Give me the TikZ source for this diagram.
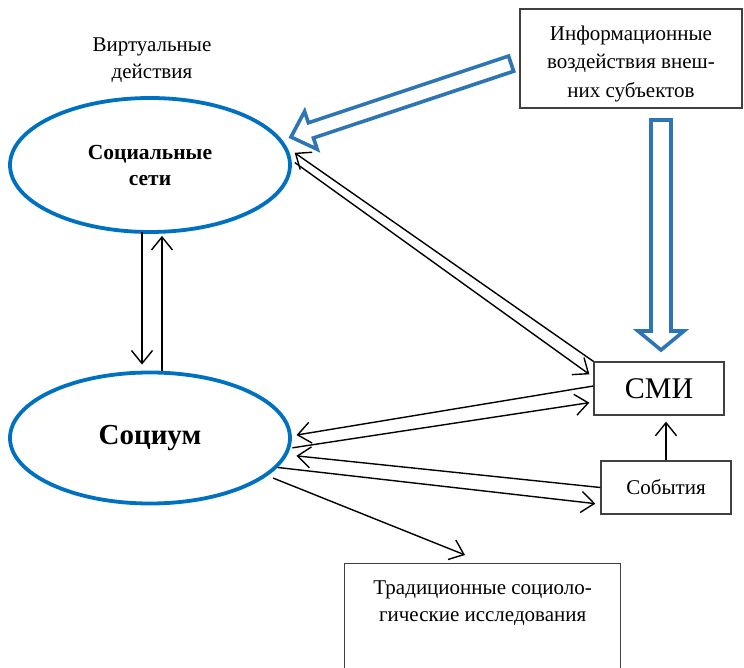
\documentclass[tikz,border=0pt]{standalone}
\usepackage{fontspec}
\setmainfont{Liberation Serif}
\usetikzlibrary{arrows.meta,shapes.geometric,calc}
\definecolor{ellblue}{HTML}{0070C0}
\definecolor{arrblue}{HTML}{2E75B6}
\definecolor{boxgray}{HTML}{404040}
\begin{document}
\begin{tikzpicture}[x=1pt,y=1pt,
  ell/.style={ellipse, draw=ellblue, line width=3.8pt, inner sep=0pt, align=center},
  box/.style={rectangle, draw=boxgray, line width=1.3pt, inner sep=0pt, align=center},
  txt/.style={font=\fontsize{21}{27}\selectfont, align=center, inner sep=0pt},
  conn/.style={line width=1.4pt, -{Straight Barb[length=13pt,width=21pt,line width=1.4pt]}},
  hollow/.style={draw=arrblue, line width=3.6pt, fill=white, line join=miter}
]
\useasboundingbox (0,0) rectangle (744,667);
% nodes
\node[txt] (virt) at (152,607) {Виртуальные\\действия};
\node[ell, minimum width=280pt, minimum height=134pt, font=\fontsize{21.5}{26}\selectfont\bfseries] (social) at (150,502) {Социальные\\сети};
\node[ell, minimum width=280pt, minimum height=131pt, font=\fontsize{29}{34}\selectfont\bfseries] (socium) at (150,229) {Социум};
\node[box, minimum width=222pt, minimum height=99pt] (info) at (631,608.5) {};
\node[txt, font=\fontsize{21}{28.5}\selectfont, anchor=center] (infotext) at ([yshift=-5pt]info.center) {Информационные\\воздействия внеш-\\них субъектов};
\node[box, minimum width=130pt, minimum height=53pt, font=\fontsize{30}{34}\selectfont] (smi) at (659,278.5) {СМИ};
\node[box, minimum width=130pt, minimum height=53pt, font=\fontsize{21}{27}\selectfont] (sob) at (666,179.5) {События};
\node[box, minimum width=276pt, minimum height=125pt, anchor=north west] (trad) at (344,104) {};
\node[txt, anchor=north] (tradtext) at ([yshift=-18pt]trad.north) {Традиционные социоло-\\гические исследования};
% hollow blue arrows
\coordinate (diagtip) at (291,530);
\begin{scope}[shift={(diagtip)}, rotate=18.43]
\draw[hollow] (0,0) -- (21,20) -- (21,8) -- (232,8) -- (232,-8) -- (21,-8) -- (21,-20) -- cycle;
\end{scope}
\coordinate (verttip) at (661,317);
\begin{scope}[shift={(verttip)}, rotate=90]
\draw[hollow] (0,0) -- (19,23) -- (19,10) -- (230,10) -- (230,-10) -- (19,-10) -- (19,-23) -- cycle;
\end{scope}
% connectors
\draw[conn] (smi.north west) -- ($(social.5)+(5,0)$);
\draw[conn] ($(social.1)+(3,0)$) -- ($(smi.north west)+(-4,-13)$);
\draw[conn] ($(smi.west)+(0,2.5)$) -- ($(socium.2)+(5,-2)$);
\draw[conn] ($(socium.-4)+(2,0)$) -- ($(smi.south west)+(-4,13)$);
\draw[conn] (sob.west) -- ($(socium.-7)+(9,-1)$);
\draw[conn] (socium.-13) -- ($(sob.south west)+(-5,11)$);
\draw[conn] ($(socium.-18)+(6,-2)$) -- ($(trad.north west)+(121,8)$);
\draw[conn] ($(social.south)+(-8,2)$) -- ($(socium.north)+(-8,6)$);
\draw[conn] ($(socium.north)+(12,0)$) -- ($(social.south)+(12,-2)$);
\draw[conn] (sob.north) -- ($(smi.south)+(7,-6)$);
\end{tikzpicture}
\end{document}
